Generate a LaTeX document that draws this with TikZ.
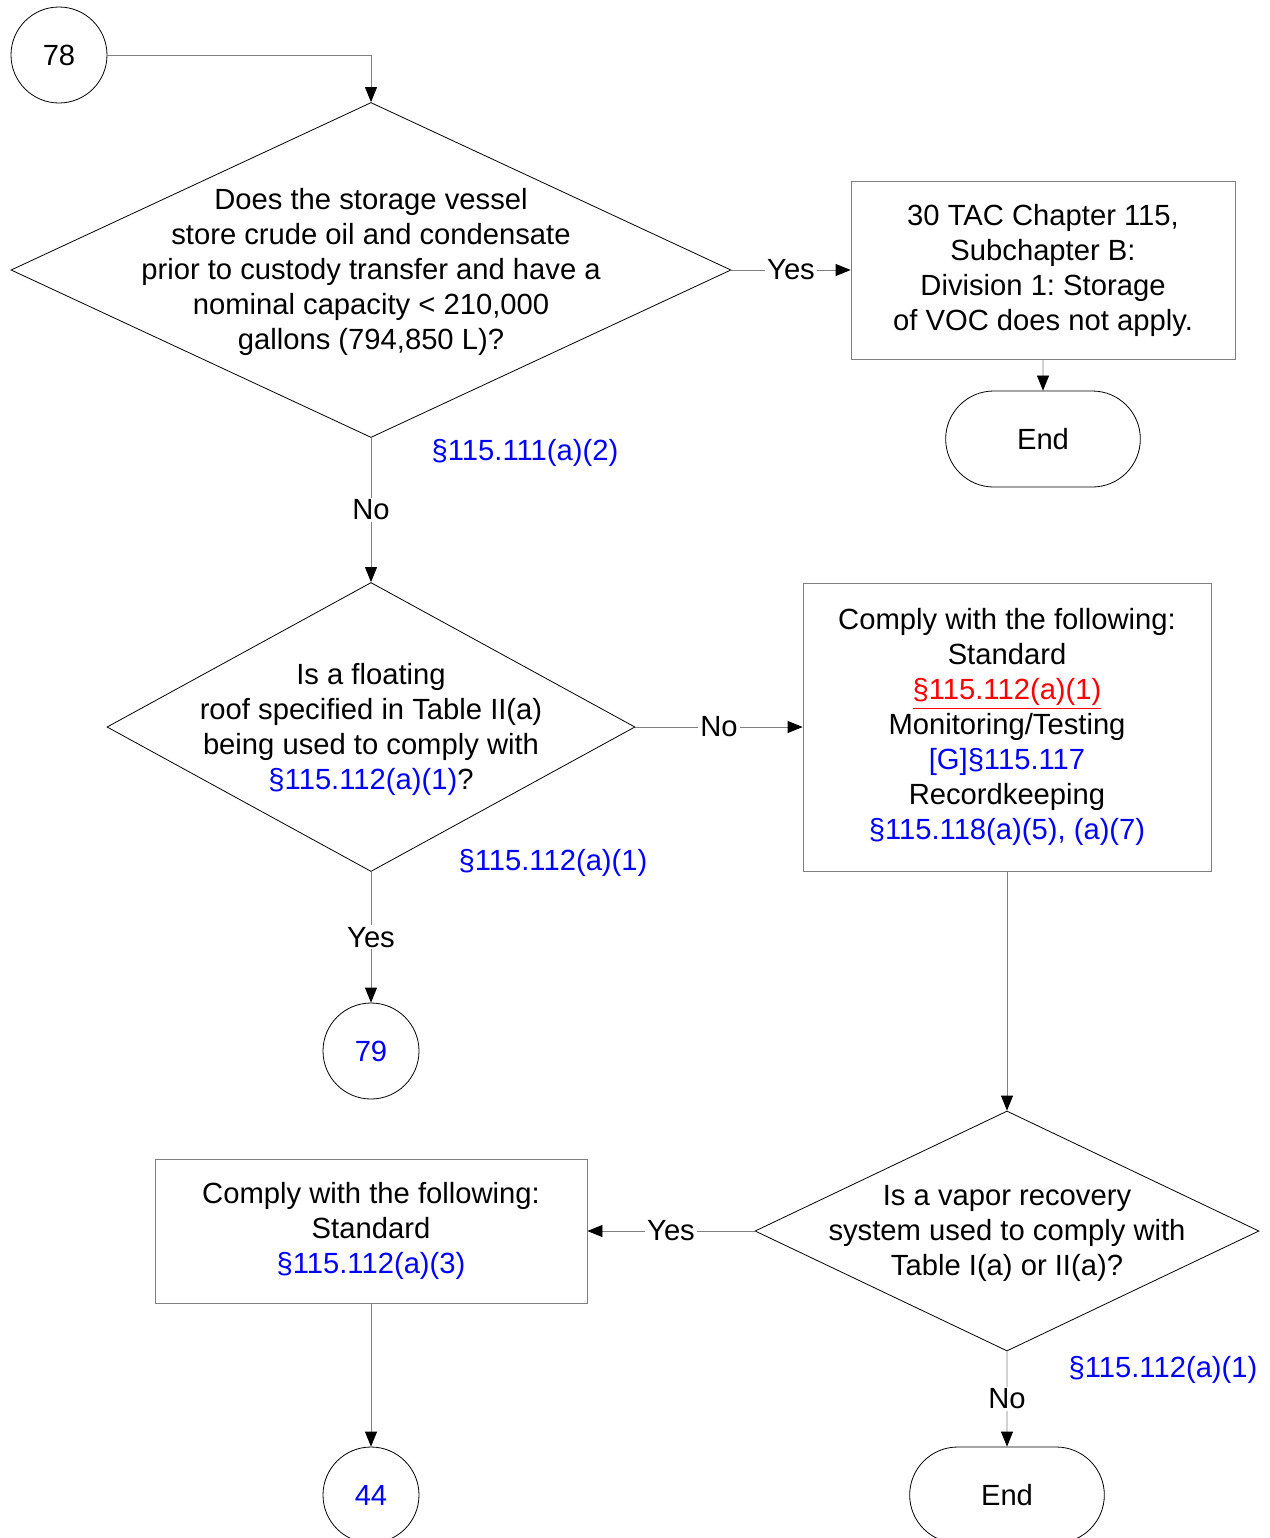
\documentclass[tikz,border=0pt]{standalone}
\usepackage{fontspec}
\setmainfont{Liberation Sans}
\frenchspacing
\usetikzlibrary{shapes.geometric,shapes.misc,arrows.meta}
\definecolor{linegray}{RGB}{128,128,128}
\definecolor{refblue}{RGB}{0,0,255}
\definecolor{refred}{RGB}{255,0,0}

\begin{document}
\begin{tikzpicture}[x=0.5pt,y=-0.5pt,
		every node/.style={font=\fontsize{14.6}{17.5}\selectfont},
		decision/.style={diamond,draw=black,inner sep=0pt},
		qtext/.style={align=center,inner sep=0pt,yshift=-1pt},
		conn/.style={circle,draw=black,minimum size=48pt,inner sep=0pt},
		terminal/.style={rounded rectangle,draw=black,minimum width=104pt,minimum height=48pt},
		stepbox/.style={rectangle,draw=linegray,align=center,inner sep=0pt},
		flow/.style={draw=linegray,-{Triangle[length=7.5pt,width=6pt,black]}},
		answer/.style={fill=white,inner sep=1pt},
		ref/.style={text=refblue}]
		\useasboundingbox (0,0) rectangle (1270,1538);

		% connectors
		\node[conn] (c78) at (59,55) {78};
		\node[conn,text=refblue] (c79) at (371,1051) {79};
		\node[conn,text=refblue] (c44) at (371,1495) {44};

		% decisions
		\node[decision,minimum width=360pt,minimum height=167.5pt] (d1) at (371,270) {};
		\node[qtext] (d1txt) at (d1.center) {Does the storage vessel\\store crude oil and condensate\\prior to custody transfer and have a\\nominal capacity < 210,000\\gallons (794,850 L)?};
		\node[decision,minimum width=264pt,minimum height=144.5pt] (d2) at (371,727) {};
		\node[qtext] (d2txt) at (d2.center) {Is a floating\\roof specified in Table II(a)\\being used to comply with\\\textcolor{refblue}{§115.112(a)(1)}?};
		\node[decision,minimum width=252pt,minimum height=120pt] (d3) at (1007,1231) {};
		\node[qtext] (d3txt) at (d3.center) {Is a vapor recovery\\system used to comply with\\Table I(a) or II(a)?};

		% boxes
		\node[stepbox,minimum width=192pt,minimum height=89pt] (b1) at (1043,270) {30 TAC Chapter 115,\\Subchapter B:\\Division 1: Storage\\of VOC does not apply.};
		\node[stepbox,minimum width=204pt,minimum height=144pt] (b2) at (1007,727) {Comply with the following:\\Standard\\\textcolor{refred}{\underline{§115.112(a)(1)}}\\Monitoring/Testing\\\textcolor{refblue}{[G]§115.117}\\Recordkeeping\\\textcolor{refblue}{§115.118(a)(5), (a)(7)}};
		\node[stepbox,minimum width=216pt,minimum height=72pt] (b3) at (371,1231) {Comply with the following:\\Standard\\\textcolor{refblue}{§115.112(a)(3)}};

		% ends
		\node[terminal] (end1) at (1043,439) {End};
		\node[terminal] (end2) at (1007,1495) {End};

		% rule references
		\node[ref] (r1) at (525,453) {§115.111(a)(2)};
		\node[ref] (r2) at (553,863) {§115.112(a)(1)};
		\node[ref] (r3) at (1163,1370) {§115.112(a)(1)};

		% flow lines
		\draw[flow] (c78) -| (d1);
		\draw[flow] (d1) -- node[answer] {Yes} (b1);
		\draw[flow] (b1) -- (end1);
		\draw[flow] (d1) -- node[answer] {No} (d2);
		\draw[flow] (d2) -- node[answer] {No} (b2);
		\draw[flow] (d2) -- node[answer] {Yes} (c79);
		\draw[flow] (b2) -- (d3);
		\draw[flow] (d3) -- node[answer] {Yes} (b3);
		\draw[flow] (d3) -- node[answer] {No} (end2);
		\draw[flow] (b3) -- (c44);
	\end{tikzpicture}
\end{document}
